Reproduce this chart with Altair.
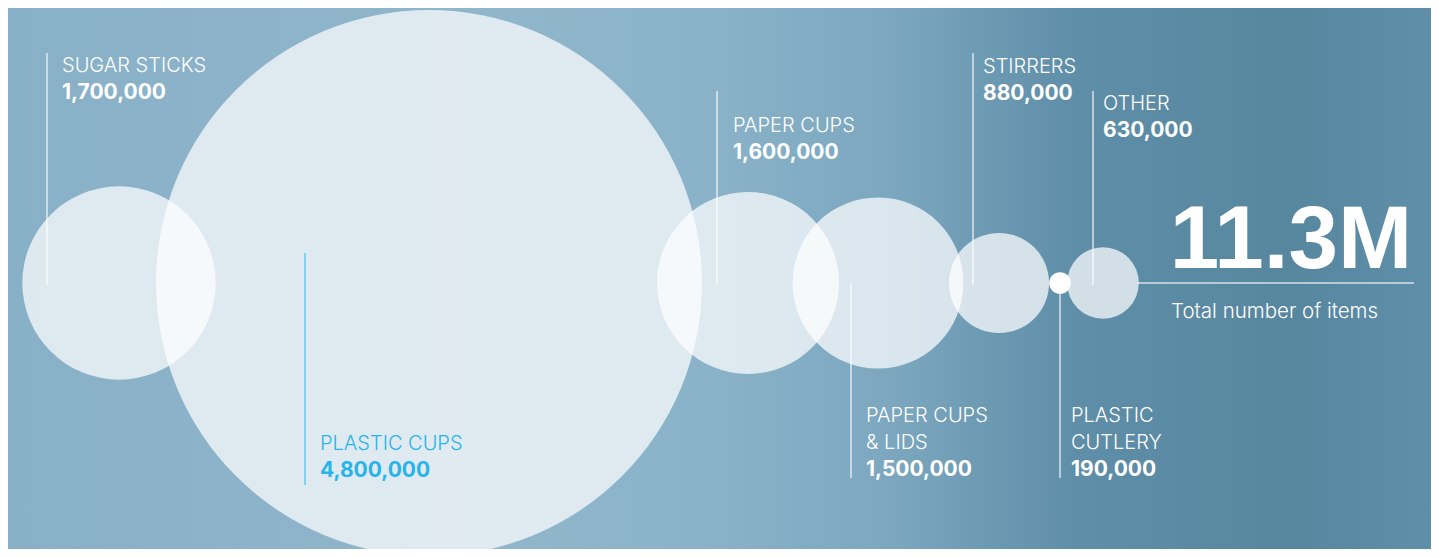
import altair as alt
import pandas as pd

# ---------------- data ----------------
CATEGORY = ["SUGAR STICKS", "PLASTIC CUPS", "PAPER CUPS", "PAPER CUPS & LIDS",
            "STIRRERS", "PLASTIC CUTLERY", "OTHER"]
LABEL_LINES = [["SUGAR STICKS"], ["PLASTIC CUPS"], ["PAPER CUPS"], ["PAPER CUPS", "& LIDS"],
               ["STIRRERS"], ["PLASTIC", "CUTLERY"], ["OTHER"]]
ITEMS = [1_700_000, 4_800_000, 1_600_000, 1_500_000, 880_000, 190_000, 630_000]
TOTAL_TEXT = "11.3M"
TOTAL_CAPTION = "Total number of items"

# ---------------- layout (pixels, reference frame) ----------------
W, H = 1439, 557
M = 8
CX = [119, 429, 748, 878, 999, 1060, 1103]
CY = 283
MAX_R = 273
RULE_X = [47, 305, 717, 851, 973, 1060, 1093]
RULE_Y1 = [53, 253, 91, 283, 53, 283, 91]
RULE_Y2 = [285, 485, 285, 478, 285, 478, 285]
TEXT_X = [62, 320, 733, 866, 983, 1071, 1103]
TEXT_Y0 = [72, 450, 132, 422, 73, 422, 110]
LINE_GAP = 27
HIGHLIGHT = "PLASTIC CUPS"
BLUE_TEXT = "#27b4e8"
BLUE_RULE = "#62c9f0"

FONT = "Inter"

circles = pd.DataFrame({
    "category": CATEGORY,
    "items": ITEMS,
    "cx": CX,
    "cy": [CY] * len(CATEGORY),
    "op": [1.0 if c == "PLASTIC CUTLERY" else 0.72 for c in CATEGORY],
})

rules = pd.DataFrame({
    "category": CATEGORY,
    "x": RULE_X,
    "y1": RULE_Y1,
    "y2": RULE_Y2,
    "col": [BLUE_RULE if c == HIGHLIGHT else "#ffffff" for c in CATEGORY],
    "op": [1.0 if c == HIGHLIGHT else 0.75 for c in CATEGORY],
})

rows = []
for cat, lines, v, tx, ty in zip(CATEGORY, LABEL_LINES, ITEMS, TEXT_X, TEXT_Y0):
    col = BLUE_TEXT if cat == HIGHLIGHT else "#ffffff"
    for i, ln in enumerate(lines):
        rows.append({"x": tx, "y": ty + i * LINE_GAP, "t": ln, "kind": "name", "col": col})
    rows.append({"x": tx, "y": ty + len(lines) * LINE_GAP, "t": f"{v:,}", "kind": "value", "col": col})
texts = pd.DataFrame(rows)
names = texts[texts.kind == "name"]
values = texts[texts.kind == "value"]

xs = alt.Scale(domain=[M, W - M], range=[0, W - 2 * M])
ys = alt.Scale(domain=[M, H - M], range=[0, H - 2 * M])
X = lambda f: alt.X(f, type="quantitative", scale=xs, axis=None)
Y = lambda f: alt.Y(f, type="quantitative", scale=ys, axis=None)

bg = alt.Chart(pd.DataFrame({"a": [0]})).mark_rect(
    color=alt.LinearGradient(
        gradient="linear", x1=0, x2=1, y1=0, y2=0,
        stops=[
            alt.GradientStop(color="#88b0c7", offset=0),
            alt.GradientStop(color="#90b6cb", offset=0.35),
            alt.GradientStop(color="#89b2c8", offset=0.5),
            alt.GradientStop(color="#7ca7bf", offset=0.62),
            alt.GradientStop(color="#5f8ea8", offset=0.75),
            alt.GradientStop(color="#57869f", offset=0.9),
            alt.GradientStop(color="#5f8fa9", offset=1),
        ],
    )
).encode(x=alt.value(0), x2=alt.value(W - 2 * M), y=alt.value(0), y2=alt.value(H - 2 * M))

# Vega circle radius = sqrt(size) / 2, so size = 4 r^2; radius proportional to value
circ = alt.Chart(circles).mark_circle(color="#ffffff", strokeWidth=0).encode(
    x=X("cx"), y=Y("cy"),
    size=alt.Size("items:Q", scale=alt.Scale(type="pow", exponent=2, domain=[0, max(ITEMS)],
                                              range=[0, 4 * MAX_R ** 2]), legend=None),
    opacity=alt.Opacity("op:Q", scale=None),
)

rl = alt.Chart(rules).mark_rule(strokeWidth=1.5).encode(
    x=X("x"), y=Y("y1"), y2="y2",
    color=alt.Color("col:N", scale=None),
    opacity=alt.Opacity("op:Q", scale=None),
)

hline = alt.Chart(pd.DataFrame({"x1": [1138], "x2": [1414], "y": [CY]})).mark_rule(
    color="#ffffff", opacity=0.75, strokeWidth=1.5
).encode(x=X("x1"), x2="x2", y=Y("y"))

nm = alt.Chart(names).mark_text(align="left", baseline="alphabetic", font=FONT,
                                fontSize=20, fontWeight=300).encode(
    x=X("x"), y=Y("y"), text="t:N", color=alt.Color("col:N", scale=None))
vl = alt.Chart(values).mark_text(align="left", baseline="alphabetic", font=FONT,
                                 fontSize=21, fontWeight="bold").encode(
    x=X("x"), y=Y("y"), text="t:N", color=alt.Color("col:N", scale=None))

tot = alt.Chart(pd.DataFrame({"x": [1291], "y": [268], "t": [TOTAL_TEXT]})).mark_text(
    align="center", baseline="alphabetic", font="Liberation Sans", fontSize=89,
    fontWeight="bold", color="#ffffff"
).encode(x=X("x"), y=Y("y"), text="t:N")

cap = alt.Chart(pd.DataFrame({"x": [1171], "y": [318], "t": [TOTAL_CAPTION]})).mark_text(
    align="left", baseline="alphabetic", font=FONT, fontSize=20.5, fontWeight=300, color="#ffffff"
).encode(x=X("x"), y=Y("y"), text="t:N")

chart = alt.layer(bg, circ, rl, hline, nm, vl, tot, cap).properties(
    width=W - 2 * M, height=H - 2 * M, padding=0,
    autosize=alt.AutoSizeParams(type="none"),
).configure_view(stroke=None, clip=True).configure(background="#7fa9c0")

chart.save("out.html", embed_options={"renderer": "svg", "actions": False})
